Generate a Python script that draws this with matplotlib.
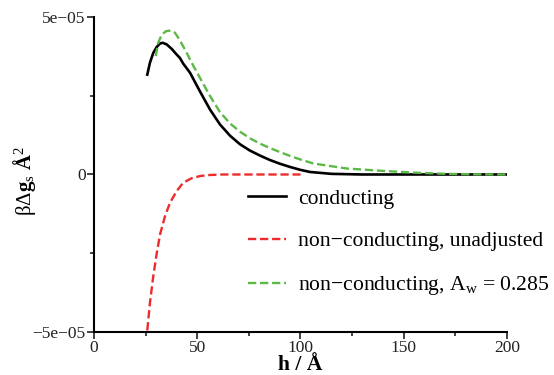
import numpy as np
import matplotlib
matplotlib.use("Agg")
import matplotlib.pyplot as plt
from matplotlib.ticker import MultipleLocator

plt.rcParams['font.family'] = ['Liberation Serif', 'DejaVu Serif']
plt.rcParams['mathtext.fontset'] = 'custom'
plt.rcParams['mathtext.rm'] = 'Liberation Serif'
plt.rcParams['mathtext.it'] = 'Liberation Serif:italic'
plt.rcParams['mathtext.bf'] = 'Liberation Serif:bold'

# conducting (solid black), values in units of 1e-6
h_cond = [25.8, 27.1, 28.7, 30.4, 32.0, 33.3, 35.2, 37.6, 40.0, 41.6, 43.2,
          46.5, 51.3, 56.2, 61.0, 65.9, 70.7, 75.5, 80.4, 85.2, 90.1,
          94.9, 99.8, 104.6, 115, 130, 150, 175, 200]
g_cond = [31.7, 35.5, 38.6, 40.5, 41.6, 41.8, 41.3, 39.9, 38.1, 37.0, 35.2,
          32.3, 26.4, 20.6, 15.9, 12.3, 9.6, 7.6, 6.0, 4.6, 3.4,
          2.4, 1.5, 0.8, 0.2, 0.0, 0.0, 0.0, 0.0]

# non-conducting, unadjusted (red dashed)
h_red = [25.8, 27.1, 28.7, 30.4, 32.0, 34.4, 36.8, 40.0, 43.2, 47.3, 51.3,
         55.0, 62.0, 80.0, 100.0]
g_red = [-49.5, -40.7, -32.3, -24.9, -19.0, -13.2, -9.0, -5.3, -2.6, -1.2,
         -0.5, -0.2, 0.0, 0.0, 0.0]

# non-conducting, A_w = 0.285 (green dashed)
h_green = [29.9, 31.1, 32.8, 34.9, 37.1, 39.2, 41.6, 44.9, 48.1, 51.3, 56.2,
           61.0, 65.9, 70.7, 75.5, 80.4, 85.2, 90.1, 94.9, 99.8, 106.2, 122.4,
           138.5, 154.7, 170.8, 185, 200]
g_green = [37.6, 41.8, 44.4, 45.5, 45.7, 45.0, 42.6, 38.6, 34.5, 30.7, 24.9,
           19.8, 16.2, 13.6, 11.5, 9.8, 8.4, 7.1, 5.9, 4.8, 3.5, 1.9,
           1.2, 0.6, 0.2, 0.05, 0.0]

scale = 1e-6
yticks = [-5e-5, 0, 5e-5]
ytick_labels = ['\u22125e\u221205', '0', '5e\u221205']
xticks = [0, 50, 100, 150, 200]

fig = plt.figure(figsize=(5.54, 3.75), dpi=100)
ax = fig.add_axes([0.1697, 0.1147, 0.7453, 0.84])

dash = (0, (3.5, 1.6))
ax.plot(h_cond, np.array(g_cond) * scale, color='black', lw=1.9,
        solid_joinstyle='round', label='conducting')
ax.plot(h_red, np.array(g_red) * scale, color='#ee2a2a', lw=1.7, ls=dash,
        dash_joinstyle='round', label='non\u2212conducting, unadjusted')
ax.plot(h_green, np.array(g_green) * scale, color='#5cb946', lw=1.7, ls=dash,
        dash_joinstyle='round', label='non\u2212conducting, A$_{\\mathrm{w}}$ = 0.285')

ax.set_xlim(0, 200)
ax.set_ylim(-5e-5, 5e-5)
ax.set_xticks(xticks)
ax.set_yticks(yticks)
ax.set_yticklabels(ytick_labels)
ax.xaxis.set_minor_locator(MultipleLocator(25))
ax.yaxis.set_minor_locator(MultipleLocator(2.5e-5))
ax.tick_params(which='both', direction='out', width=1.2, labelsize=12.5,
               colors='#222222', pad=1)
ax.tick_params(which='major', length=5)
ax.tick_params(which='minor', length=3)
for s in ['top', 'right']:
    ax.spines[s].set_visible(False)
for s in ['left', 'bottom']:
    ax.spines[s].set_linewidth(1.5)

ax.set_xlabel('h / \u00c5', fontsize=15.5, fontweight='bold')
ax.xaxis.set_label_coords(0.5, -0.072)
ax.set_ylabel('\u03b2\u0394$\\mathbf{g}_{\\mathrm{s}}$ $\\mathbf{\u00c5}^{2}$', fontsize=15)
ax.yaxis.set_label_coords(-0.135, 0.48)

ax.legend(loc='upper left', bbox_to_anchor=(0.373, 0.456), frameon=False,
          fontsize=15.6, handlelength=1.75, handletextpad=0.55, labelspacing=1.05,
          borderaxespad=0, borderpad=0)

fig.savefig('out.png', dpi=100)
